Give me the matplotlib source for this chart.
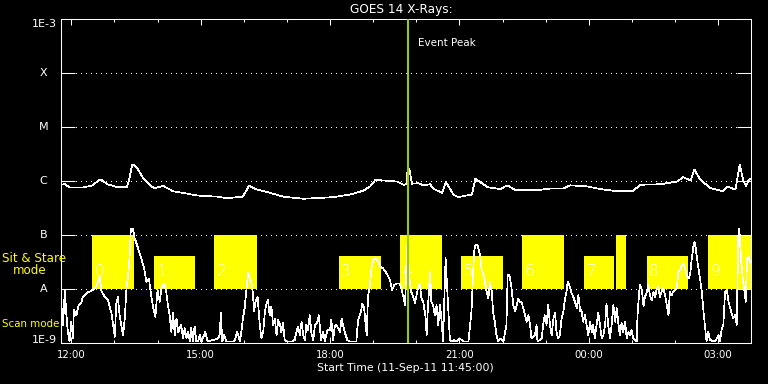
import numpy as np
import matplotlib.pyplot as plt
from matplotlib.ticker import FixedLocator, NullLocator

plt.rcParams['font.family'] = 'DejaVu Sans'

# time axis: hours after 11:45 UT on 11-Sep-11
# GOES 14 long channel, log10 of flux
t_long = [0.00, 0.10, 0.22, 0.52, 0.75, 0.89, 0.96, 1.08, 1.31, 1.54,
          1.59, 1.66, 1.71, 1.80, 1.91, 2.08, 2.12, 2.19, 2.38, 2.61,
          2.84, 3.17, 3.63, 3.86, 4.23, 4.37, 4.56, 4.86, 5.16, 5.63,
          5.86, 6.32, 6.72, 7.02, 7.18, 7.30, 7.48, 7.81, 7.95, 8.02,
          8.04, 8.09, 8.15, 8.30, 8.41, 8.57, 8.64, 8.85, 8.94, 9.11,
          9.22, 9.54, 9.62, 9.77, 9.92, 10.04, 10.20, 10.36, 10.55, 10.82,
          11.05, 11.36, 11.66, 11.82, 12.21, 12.52, 12.82, 13.28, 13.45, 13.91,
          14.30, 14.44, 14.61, 14.70, 14.84, 15.07, 15.37, 15.46, 15.65, 15.69,
          15.75, 15.84, 15.90, 15.96, 16.00]
lg_long = [-6.07, -6.06, -6.12, -6.12, -6.08, -5.98, -5.98, -6.06, -6.11, -6.11,
           -5.98, -5.70, -5.70, -5.79, -5.94, -6.08, -6.11, -6.13, -6.09, -6.19,
           -6.22, -6.27, -6.29, -6.32, -6.29, -6.09, -6.16, -6.22, -6.29, -6.33,
           -6.32, -6.30, -6.25, -6.18, -6.10, -5.98, -5.99, -6.01, -6.07, -6.06,
           -5.85, -5.77, -6.05, -6.04, -6.08, -6.06, -6.14, -6.22, -6.02, -6.25,
           -6.30, -6.25, -5.96, -6.04, -6.12, -6.13, -6.15, -6.08, -6.17, -6.16,
           -6.17, -6.14, -6.14, -6.08, -6.10, -6.15, -6.18, -6.18, -6.07, -6.06,
           -6.01, -5.93, -5.99, -5.79, -5.98, -6.13, -6.19, -6.10, -6.16, -5.98,
           -5.70, -6.01, -6.09, -5.98, -5.96]

# lower (scaled) trace, read in five pieces
t_lo_a = [0.00, 0.02, 0.06, 0.10, 0.13, 0.17, 0.21, 0.25, 0.29, 0.31,
          0.37, 0.42, 0.48, 0.52, 0.60, 0.68, 0.75, 0.83, 0.87, 0.91,
          0.95, 1.03, 1.10, 1.14, 1.18, 1.22, 1.26, 1.29, 1.33, 1.37,
          1.41, 1.45, 1.49, 1.53, 1.57, 1.61, 1.63, 1.68, 1.72, 1.80,
          1.87, 1.94, 1.99, 2.05, 2.09, 2.15, 2.20, 2.25, 2.30, 2.34,
          2.40, 2.45, 2.49, 2.53, 2.57, 2.61, 2.65, 2.69, 2.73, 2.80,
          2.84, 2.88, 2.92, 2.96, 3.00, 3.03, 3.07, 3.11, 3.15]
lg_lo_a = [-8.24, -8.30, -8.67, -8.02, -8.42, -8.80, -8.98, -8.61, -8.91, -8.39,
           -8.49, -8.30, -8.26, -8.15, -8.08, -8.05, -8.02, -7.96, -7.87, -7.78,
           -8.05, -8.15, -8.21, -8.33, -8.45, -8.67, -8.89, -8.30, -8.15, -8.49,
           -8.67, -8.86, -8.55, -7.99, -7.74, -7.31, -6.88, -6.89, -7.06, -7.25,
           -7.43, -7.62, -7.87, -7.81, -8.05, -8.36, -8.52, -8.02, -8.24, -7.99,
           -7.90, -8.05, -8.30, -8.49, -8.80, -8.45, -8.86, -8.55, -8.80, -8.67,
           -8.92, -8.73, -8.92, -8.80, -8.98, -8.73, -8.98, -8.70, -8.98]

t_lo_b = [3.19, 3.23, 3.27, 3.36, 3.41, 3.54, 3.65, 3.69, 3.72, 3.75,
          3.79, 3.85, 4.00, 4.04, 4.10, 4.16, 4.20, 4.23, 4.27, 4.31,
          4.35, 4.39, 4.43, 4.45, 4.49, 4.52, 4.57, 4.62, 4.66, 4.70,
          4.74, 4.78, 4.81, 4.85, 4.89, 4.93, 4.97, 5.01, 5.05, 5.09,
          5.12, 5.16, 5.20, 5.26, 5.36, 5.43, 5.47, 5.51, 5.55, 5.59,
          5.63, 5.67, 5.70, 5.74, 5.78, 5.82, 5.86, 5.90, 5.94, 5.96,
          5.99, 6.04, 6.09, 6.13, 6.19, 6.25, 6.28, 6.32, 6.36, 6.40]
lg_lo_b = [-8.98, -8.86, -8.98, -8.80, -8.98, -8.95, -8.92, -8.86, -8.45, -8.98,
           -8.86, -8.98, -8.98, -8.95, -8.80, -8.98, -8.76, -8.55, -8.36, -8.02,
           -7.71, -7.81, -7.90, -7.99, -8.42, -8.24, -8.15, -8.67, -8.92, -8.80,
           -8.42, -8.27, -8.21, -8.49, -8.33, -8.67, -8.55, -8.86, -8.58, -8.67,
           -8.80, -8.64, -8.95, -8.98, -8.98, -8.95, -8.80, -8.70, -8.86, -8.61,
           -8.86, -8.95, -8.67, -8.76, -8.49, -8.83, -8.95, -8.67, -8.64, -8.61,
           -8.49, -8.95, -8.80, -8.98, -8.76, -8.76, -8.58, -8.95, -8.70, -8.67]

t_lo_c = [6.48, 6.52, 6.55, 6.59, 6.65, 6.71, 6.86, 6.90, 6.97, 7.00,
          7.04, 7.10, 7.13, 7.17, 7.21, 7.25, 7.30, 7.37, 7.41, 7.48,
          7.56, 7.64, 7.69, 7.74, 7.79, 7.87, 7.91, 7.95, 7.99, 8.01,
          8.04, 8.08, 8.13, 8.18, 8.22, 8.28, 8.33, 8.37, 8.41, 8.46,
          8.49, 8.51, 8.57, 8.60, 8.64, 8.68, 8.72, 8.76, 8.80, 8.84,
          8.87, 8.93, 8.97, 9.03, 9.07, 9.13, 9.18, 9.26, 9.34, 9.46,
          9.53, 9.59, 9.62, 9.67]
lg_lo_c = [-8.80, -8.55, -8.67, -8.80, -8.95, -8.98, -8.98, -8.58, -8.42, -8.27,
           -8.36, -8.86, -8.15, -7.96, -7.62, -7.47, -7.43, -7.50, -7.59, -7.62,
           -7.71, -7.84, -8.02, -7.93, -7.90, -7.90, -8.02, -8.15, -8.30, -7.74,
           -7.19, -7.74, -8.05, -8.15, -8.27, -8.02, -7.90, -8.18, -8.24, -8.49,
           -8.86, -8.49, -7.68, -8.24, -8.30, -8.49, -8.30, -8.67, -8.30, -8.61,
           -8.98, -7.43, -8.05, -8.95, -8.98, -8.95, -8.98, -8.92, -8.98, -8.98,
           -8.42, -7.31, -7.19, -7.19]

t_lo_d = [9.73, 9.76, 9.83, 9.88, 9.92, 9.96, 10.00, 10.03, 10.07, 10.11,
          10.15, 10.19, 10.27, 10.31, 10.34, 10.37, 10.41, 10.45, 10.50, 10.54,
          10.58, 10.61, 10.65, 10.69, 10.73, 10.77, 10.81, 10.85, 10.89, 10.92,
          11.00, 11.04, 11.06, 11.16, 11.19, 11.23, 11.27, 11.31, 11.35, 11.39,
          11.43, 11.47, 11.50, 11.54, 11.58, 11.62, 11.66, 11.70, 11.74, 11.76,
          11.81, 11.85, 11.89, 11.93, 11.97, 12.01, 12.05, 12.08, 12.12, 12.16,
          12.20, 12.24, 12.28, 12.32, 12.35, 12.39, 12.43, 12.47, 12.51, 12.55,
          12.59, 12.63, 12.66, 12.70, 12.74, 12.78, 12.82, 12.86, 12.90]
lg_lo_d = [-7.37, -7.62, -7.81, -8.05, -8.18, -7.87, -8.05, -8.42, -8.61, -8.86,
           -8.98, -8.92, -8.98, -8.80, -8.67, -7.74, -7.74, -7.93, -8.30, -8.42,
           -8.30, -8.18, -8.24, -8.24, -8.36, -8.49, -8.61, -8.49, -8.67, -8.92,
           -8.86, -8.67, -8.98, -8.92, -8.67, -8.49, -8.67, -8.30, -8.67, -8.86,
           -8.55, -8.45, -8.80, -8.92, -8.86, -8.55, -8.42, -8.18, -8.02, -7.87,
           -7.96, -8.08, -8.15, -8.24, -8.36, -8.12, -8.42, -8.39, -8.61, -8.49,
           -8.67, -8.86, -8.61, -8.80, -8.67, -8.92, -8.67, -8.45, -8.67, -8.92,
           -8.86, -8.67, -8.27, -8.67, -8.92, -8.67, -8.30, -8.61, -8.36]

t_lo_e = [12.94, 12.97, 13.01, 13.05, 13.09, 13.13, 13.17, 13.21, 13.24, 13.28,
          13.32, 13.36, 13.38, 13.42, 13.44, 13.48, 13.52, 13.55, 13.59, 13.63,
          13.67, 13.71, 13.75, 13.79, 13.82, 13.86, 13.90, 13.94, 13.98, 14.02,
          14.06, 14.10, 14.13, 14.17, 14.21, 14.25, 14.29, 14.33, 14.37, 14.40,
          14.44, 14.48, 14.52, 14.56, 14.60, 14.64, 14.68, 14.70, 14.73, 14.78,
          14.83, 14.87, 14.91, 14.95, 14.98, 15.02, 15.06, 15.18, 15.26, 15.29,
          15.33, 15.37, 15.41, 15.45, 15.49, 15.53, 15.56, 15.60, 15.64, 15.68,
          15.72, 15.74, 15.78, 15.82, 15.86, 15.89, 15.92, 15.95, 15.99]
lg_lo_e = [-8.67, -8.86, -8.64, -8.80, -8.61, -8.92, -8.80, -8.86, -8.76, -8.92,
           -8.95, -8.98, -8.49, -8.05, -7.93, -8.02, -8.33, -8.15, -8.08, -7.93,
           -8.12, -8.21, -8.05, -8.15, -8.02, -7.96, -8.15, -8.05, -7.99, -8.12,
           -8.30, -8.49, -8.05, -8.12, -8.05, -8.02, -7.99, -7.68, -7.65, -7.56,
           -7.53, -7.62, -7.74, -7.81, -7.74, -7.43, -7.19, -7.13, -7.25, -7.56,
           -7.81, -8.05, -8.42, -8.73, -8.98, -8.80, -8.95, -8.98, -8.86, -8.98,
           -8.76, -8.67, -8.05, -8.02, -8.24, -8.36, -8.45, -8.55, -8.49, -8.67,
           -6.94, -6.88, -7.43, -7.81, -8.05, -8.24, -7.43, -7.40, -7.50]

# observing blocks (sit & stare = tall, scan = short)
box_start = [0.73, 2.17, 3.57, 6.46, 7.88, 9.29, 10.71, 12.15, 12.87, 13.59, 15.02]
box_end = [1.70, 3.11, 4.55, 7.43, 8.84, 10.26, 11.68, 12.84, 13.11, 14.56, 16.00]
box_top = [1e-7, 4e-8, 1e-7, 4e-8, 1e-7, 4e-8, 1e-7, 4e-8, 1e-7, 4e-8, 1e-7]
box_label = ['0', '1', '2', '3', '4', '5', '6', '7', '', '8', '9']
box_base = 1e-8

t_peak = 8.06

level_val = [1e-9, 1e-8, 1e-7, 1e-6, 1e-5, 1e-4, 1e-3]
level_txt = ['1E-9', 'A', 'B', 'C', 'M', 'X', '1E-3']

hour_major = [0.25, 3.25, 6.25, 9.25, 12.25, 15.25]
hour_minor = [1.25, 2.25, 4.25, 5.25, 7.25, 8.25, 10.25, 11.25, 13.25, 14.25]
hour_labels = ['12:00', '15:00', '18:00', '21:00', '00:00', '03:00']

t_lo = np.concatenate([t_lo_a, t_lo_b, t_lo_c, t_lo_d, t_lo_e])
lg_lo = np.concatenate([lg_lo_a, lg_lo_b, lg_lo_c, lg_lo_d, lg_lo_e])

W, H = 768, 384
fig = plt.figure(figsize=(W / 100, H / 100), dpi=100, facecolor='black')
ax = fig.add_axes([60.5 / W, 41.3 / H, 690 / W, 323.4 / H])
ax.set_facecolor('black')
ax.set_yscale('log')
ax.set_xlim(0, 16)
ax.set_ylim(1e-9, 1e-3)

for s in ax.spines.values():
    s.set_color('white')
    s.set_linewidth(0.75)

# dotted class levels
for v in level_val[1:-1]:
    ax.axhline(v, color='white', lw=0.72, ls=(0, (1, 5)), zorder=0.5, antialiased=False)

# yellow observing blocks
widths = np.array(box_end) - np.array(box_start)
heights = np.array(box_top) - box_base
ax.bar(box_start, heights, width=widths, bottom=box_base, align='edge',
       color='#ffff00', linewidth=0, zorder=1)
for s, lab in zip(box_start, box_label):
    ax.text(s + 0.05, 2.1e-8, lab, color='white', fontsize=11, fontweight='light',
            ha='left', va='center', zorder=2)

ax.plot(t_long, 10.0 ** np.array(lg_long), color='white', lw=0.5, zorder=3,
        antialiased=False)
ax.plot(t_lo, 10.0 ** lg_lo, color='white', lw=0.5, zorder=3, antialiased=False)

ax.axvline(t_peak, color='#9acd00', lw=1.5, zorder=4)
ax.text(t_peak + 0.24, 3.6e-4, 'Event Peak', color='white', fontsize=7.5,
        ha='left', va='center', zorder=5)

# ticks
ax.yaxis.set_major_locator(FixedLocator(level_val))
ax.yaxis.set_minor_locator(NullLocator())
ax.set_yticklabels([])
ax.tick_params(axis='y', which='major', direction='in', length=10, width=0.75,
               left=True, right=True, color='white')
ax.xaxis.set_major_locator(FixedLocator(hour_major))
ax.xaxis.set_minor_locator(FixedLocator(hour_minor))
ax.set_xticklabels(hour_labels)
ax.tick_params(axis='x', which='major', direction='in', length=4.3, width=0.75,
               top=True, bottom=True, color='white', labelcolor='white',
               labelsize=7.3, pad=5)
ax.tick_params(axis='x', which='minor', direction='in', length=2.2, width=0.75,
               top=True, bottom=True, color='white')

ytr = ax.get_yaxis_transform()
for v, txt in zip(level_val, level_txt):
    if txt == '1E-3':
        ax.text(-0.005, v, txt, transform=ytr, color='white', fontsize=8, ha='right', va='top')
    elif txt == '1E-9':
        ax.text(-0.005, v, txt, transform=ytr, color='white', fontsize=8, ha='right', va='baseline')
    else:
        ax.text(-0.0243, v, txt, transform=ytr, color='white', fontsize=8, ha='center', va='center')

ax.text(0.4945, 1.0297, 'GOES 14 X-Rays:', transform=ax.transAxes, color='white',
        fontsize=8.7, ha='center', va='center')
ax.text(0.4993, -0.078, 'Start Time (11-Sep-11 11:45:00)', transform=ax.transAxes,
        color='white', fontsize=7.8, ha='center', va='center')

fig.text(2 / W, 1 - 259 / H, 'Sit & Stare', color='#ffff00', fontsize=8.6, ha='left', va='center')
fig.text(12.7 / W, 1 - 271 / H, 'mode', color='#ffff00', fontsize=8.6, ha='left', va='center')
fig.text(2 / W, 1 - 324 / H, 'Scan mode', color='#ffff00', fontsize=7.4, ha='left', va='center')

fig.savefig('out.png', dpi=100, facecolor='black')
